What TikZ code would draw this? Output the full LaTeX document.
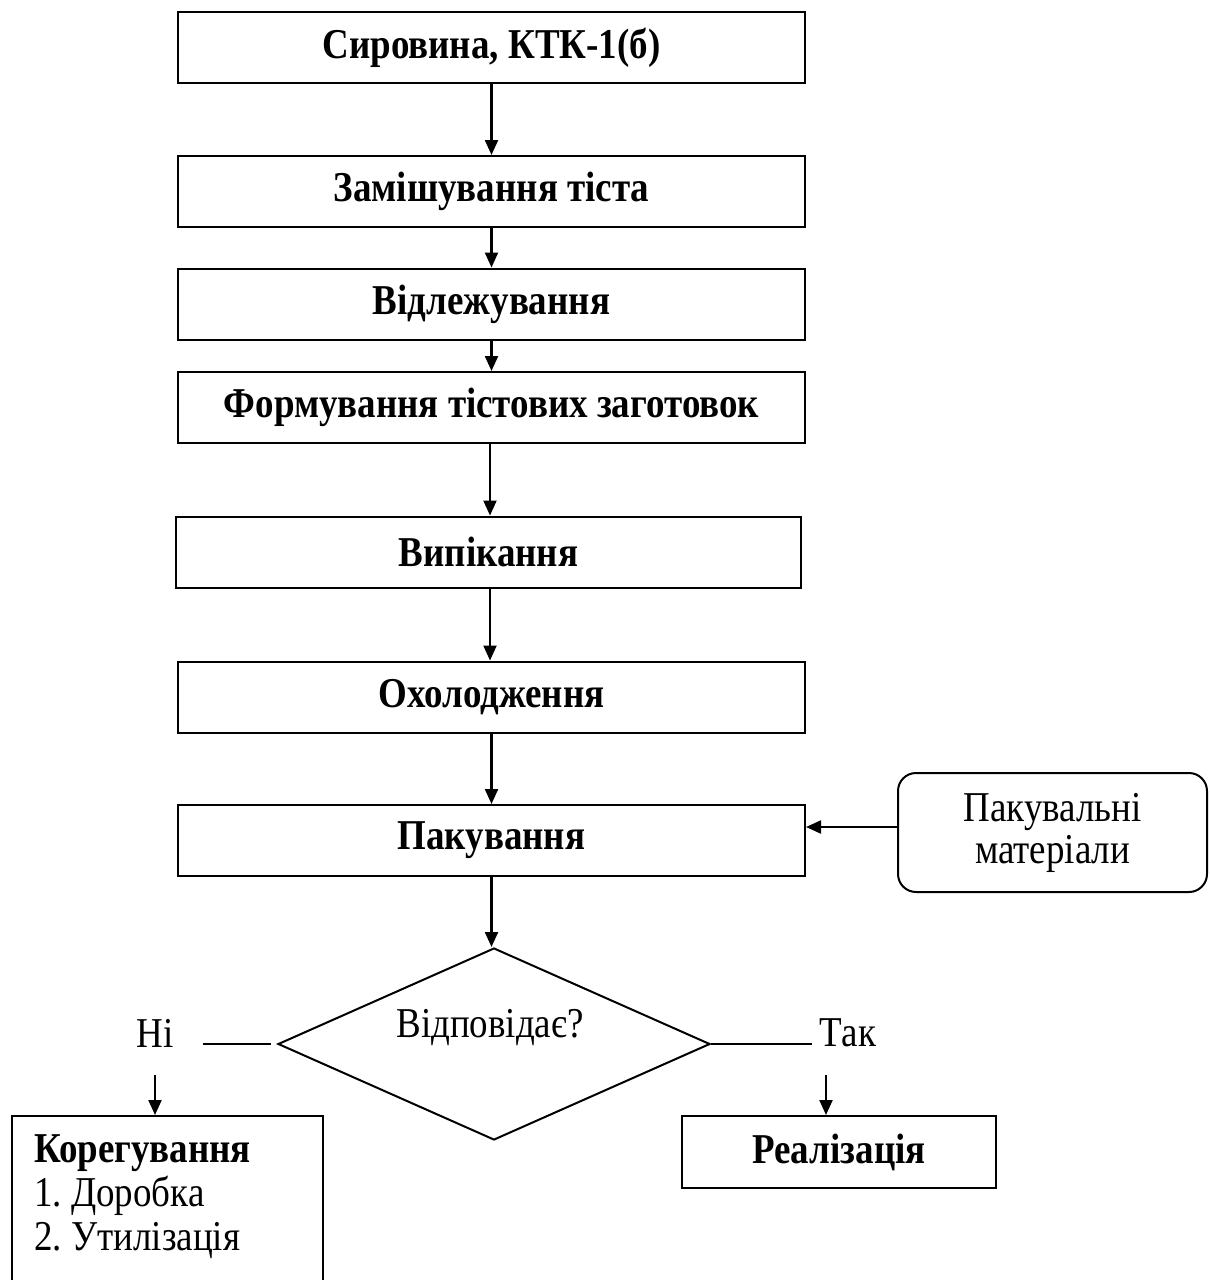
\documentclass[tikz,border=0pt]{standalone}
\usepackage{fontspec}
\setmainfont[FakeStretch=0.87]{Liberation Serif}
\usetikzlibrary{arrows.meta,shapes.geometric}
\frenchspacing
\begin{document}
\begin{tikzpicture}[x=1pt,y=-1pt,
  txt/.style={font=\fontsize{42.5}{44}\selectfont, inner sep=0pt},
  box/.style={draw, line width=2pt, minimum width=627pt, minimum height=71pt, inner sep=0pt, font=\fontsize{42.5}{44}\selectfont\bfseries},
  arr/.style={-{Triangle[length=15pt,width=13pt]}, line width=2.2pt},
  ln/.style={line width=2pt}
]
\useasboundingbox (0,0) rectangle (1210,1280);
\clip (0,0) rectangle (1210,1280);
\node[box] (s1) at (491.5,47.5) {Сировина, КТК-1(б)};
\node[box] (s2) at (491.5,191.5) {Замішування тіста};
\node[box] (s3) at (491.5,304) {Відлежування};
\node[box] (s4) at (491.5,407.5) {Формування тістових заготовок};
\node[box, minimum width=625pt] (s5) at (488.5,552) {Випікання};
\node[box] (s6) at (491.5,697) {Охолодження};
\node[box] (s7) at (491.5,840.5) {Пакування};
\node[box, rounded corners=18pt, minimum width=309pt, minimum height=119pt, align=center, font=\fontsize{42.5}{42}\selectfont] (pm) at (1052.5,832.5) {Пакувальні\\матеріали};

\draw[arr] (s1) -- (s2);
\draw[arr] (s2) -- (s3);
\draw[arr] (s3) -- (s4);
\draw[arr] ([xshift=-1.5pt]s4.south) -- ([xshift=-1.5pt]s4.south |- s5.north);
\draw[arr] ([xshift=1.5pt]s5.south) -- ([xshift=1.5pt]s5.south |- s6.north);
\draw[arr] (s6) -- (s7);
\draw[arr] ([yshift=5.5pt]pm.west) -- ([yshift=5.5pt]pm.west -| s7.east);

\node[draw, ln, shape=diamond, aspect=2.25, minimum width=432pt, minimum height=192pt, inner sep=0pt] (dia) at (494,1044) {};
\node[txt] (dq) at (490,1028) {Відповідає?};
\draw[arr] (s7) -- (s7.south |- dia.north);

\node[txt] (ni) at (155,1033) {Ні};
\coordinate (nl) at (203,1044);
\draw[ln] ([xshift=-6pt]dia.west) -- (nl);
\coordinate (na) at (155,1075);
\node[draw, ln, minimum width=311pt, minimum height=184pt, inner sep=0pt] (kor) at (167.5,1208) {};
\node[txt, anchor=north west, align=left] (kt) at (34,1134) {\textbf{Корегування}\\1. Доробка\\2. Утилізація};
\draw[arr] (na) -- (na |- kor.north);

\node[txt] (tak) at (848,1033) {Так};
\coordinate (tl) at (812,1044);
\draw[ln] (dia.east) -- (tl);
\coordinate (ta) at (826,1075);
\node[box, minimum width=314pt, minimum height=72pt] (real) at (839,1152) {Реалізація};
\draw[arr] (ta) -- (ta |- real.north);
\end{tikzpicture}
\end{document}
